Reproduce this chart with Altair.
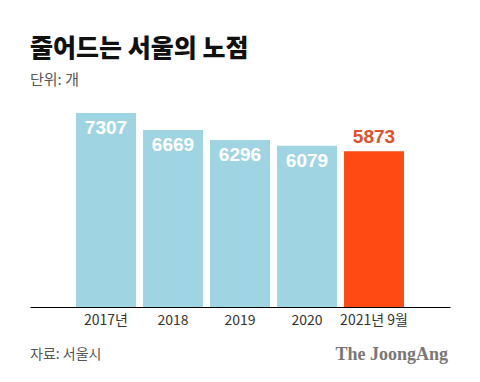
import altair as alt
import pandas as pd

categories = ["2017년", "2018", "2019", "2020", "2021년 9월"]
values = [7307, 6669, 6296, 6079, 5873]
highlight = [False, False, False, False, True]

df = pd.DataFrame({"year": categories, "count": values, "hl": highlight})

KR = "Noto Sans CJK KR"
W, H = 420, 199

x = alt.X("year:N", sort=categories,
          scale=alt.Scale(paddingInner=0.1045, paddingOuter=0.6866),
          axis=alt.Axis(title=None, labelAngle=0, labelFontSize=14, labelColor="#333333",
                        labelFont=KR, labelPadding=6, ticks=False, domainColor="#000000",
                        domainWidth=1.2, labelFontWeight=400))
y = alt.Y("count:Q", scale=alt.Scale(domain=[0, 7500], nice=False), axis=None)

base = alt.Chart(df)

bars = base.mark_bar().encode(
    x=x, y=y,
    color=alt.Color("hl:N", scale=alt.Scale(domain=[False, True], range=["#9fd5e3", "#ff4a14"]), legend=None),
)

labels_in = base.transform_filter("!datum.hl").mark_text(
    baseline="top", dy=6, font="Liberation Sans", fontWeight="bold", fontSize=19, color="#ffffff"
).encode(x=x, y=y, text="count:Q")

labels_out = base.transform_filter("datum.hl").mark_text(
    baseline="bottom", dy=-4, font="Liberation Sans", fontWeight="bold", fontSize=19, color="#e2502e"
).encode(x=x, y=y, text="count:Q")

source = alt.Chart(pd.DataFrame({"t": ["자료: 서울시"]})).mark_text(
    align="left", baseline="middle", font=KR, fontSize=14, color="#555555"
).encode(x=alt.value(0), y=alt.value(H + 48), text="t:N")

credit = alt.Chart(pd.DataFrame({"t": ["The JoongAng"]})).mark_text(
    align="right", baseline="middle", font="Liberation Serif", fontWeight="bold", fontSize=18, color="#777777"
).encode(x=alt.value(W - 2), y=alt.value(H + 48), text="t:N")

chart = alt.layer(bars, labels_in, labels_out, source, credit).properties(
    width=W, height=H,
    background="#ffffff",
    title=alt.TitleParams(
        text="줄어드는 서울의 노점", subtitle="단위: 개",
        anchor="start", frame="group", font=KR, fontSize=25, fontWeight=900, color="#111111",
        subtitleFont=KR, subtitleFontSize=15, subtitleColor="#555555", subtitlePadding=11, offset=20,
    ),
    autosize=alt.AutoSizeParams(type="none"),
    padding={"left": 22, "top": 100, "right": 22, "bottom": 67},
).configure_view(strokeWidth=0, stroke="transparent")

chart.save("out.html", embed_options={"renderer": "svg", "actions": False})
